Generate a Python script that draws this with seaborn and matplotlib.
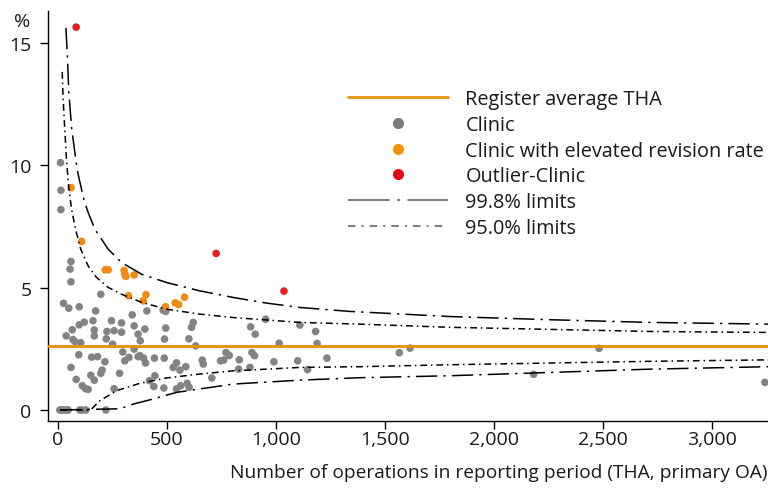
import numpy as np
import pandas as pd
import seaborn as sns
import matplotlib.pyplot as plt
from matplotlib.lines import Line2D

# clinics: operations (n) and revision rate (%)
clinic_n = [9, 15, 24, 38, 47, 101, 110, 128, 220,
            12, 14, 14, 60, 56, 60, 197, 26, 50, 98, 173, 341, 408, 246, 292,
            161, 98, 121, 350, 66, 167, 225, 258, 292, 399, 368, 38, 167, 222,
            69, 78, 378, 105, 251, 350, 96, 155, 182, 298, 216, 307, 326, 368,
            393, 443, 60, 203, 197, 283, 151, 167, 84, 112, 127, 139, 258, 420,
            440, 376, 402,
            483, 495, 621, 613, 495, 884, 905, 489, 601, 632, 488, 544, 529,
            560, 587, 662, 667, 771, 786, 746, 761, 832, 890, 902, 829, 881,
            706, 445, 486, 544, 563, 593, 602,
            953, 1015, 991, 1100, 1110, 1182, 1189, 1234, 1145, 1566, 1615,
            2482, 2182, 3243]
clinic_rate = [0, 0, 0, 0, 0, 0, 0, 0, 0,
               10.11, 8.98, 8.19, 6.07, 5.76, 5.24, 4.73, 4.36, 4.16, 4.22, 4.05,
               3.89, 4.05, 3.65, 3.56, 3.65, 3.48, 3.59, 3.44, 3.28, 3.27, 3.21,
               3.24, 3.18, 3.31, 3.10, 3.03, 3.03, 2.91, 2.88, 2.80, 2.83, 2.75,
               2.69, 2.49, 2.26, 2.16, 2.18, 2.37, 1.97, 2.01, 2.15, 2.18, 2.12,
               2.12, 1.74, 1.63, 1.50, 1.50, 1.42, 1.22, 1.25, 0.99, 0.87, 0.84,
               0.87, 1.20, 0.96, 2.22, 1.92,
               4.08, 4.03, 3.58, 3.38, 3.35, 3.40, 3.10, 2.90, 2.91, 2.62, 2.12,
               1.93, 1.74, 1.63, 1.77, 2.04, 1.88, 2.35, 2.23, 2.01, 2.04, 2.05,
               2.35, 2.22, 1.67, 1.74, 1.31, 1.40, 0.90, 0.86, 0.99, 1.09, 0.93,
               3.71, 2.73, 1.97, 2.01, 3.47, 3.21, 2.72, 2.12, 1.65, 2.34, 2.53,
               2.52, 1.46, 1.13]

elevated_n = [61, 109, 217, 231, 304, 307, 312, 350, 324, 404, 391, 494, 538, 554, 581]
elevated_rate = [9.09, 6.89, 5.73, 5.73, 5.71, 5.55, 5.46, 5.52, 4.67, 4.71, 4.46,
                 4.22, 4.38, 4.31, 4.61]

outlier_n = [84, 726, 1037]
outlier_rate = [15.65, 6.40, 4.86]

register_avg = 2.6

# control limits
up998_n = [37, 44, 50, 63, 83, 93, 121, 139, 170, 231, 292, 384, 499, 651, 804,
           957, 1110, 1339, 1798, 2257, 2716, 3260]
up998_y = [15.62, 14.4, 13.03, 11.54, 10.18, 9.63, 8.54, 8.07, 7.39, 6.57, 6.03,
           5.55, 5.21, 4.87, 4.60, 4.37, 4.19, 4.03, 3.82, 3.69, 3.58, 3.51]
up95_n = [20, 24, 32, 40, 50, 63, 81, 105, 139, 177, 231, 292, 384, 499, 651,
          804, 1110, 1385, 1798, 2716, 3260]
up95_y = [13.82, 12.76, 11.4, 10.18, 9.09, 8.2, 7.39, 6.57, 5.89, 5.42, 5.01,
          4.73, 4.40, 4.12, 3.92, 3.78, 3.58, 3.51, 3.38, 3.21, 3.17]
lo95_n = [10, 150, 193, 269, 376, 499, 651, 804, 1110, 1385, 1798, 2716, 3260]
lo95_y = [0, 0, 0.38, 0.79, 1.09, 1.31, 1.47, 1.60, 1.74, 1.77, 1.85, 1.99, 2.05]
lo998_n = [10, 284, 345, 437, 544, 651, 804, 1110, 1385, 1798, 2716, 3260]
lo998_y = [0, 0.05, 0.24, 0.45, 0.72, 0.86, 1.06, 1.22, 1.32, 1.40, 1.67, 1.77]

c_gray = '#838383'
c_orange = '#F08A12'
c_red = '#E3201B'
c_line = '#E8900C'

sns.set_theme(style='ticks')
plt.rcParams['font.family'] = ['Open Sans', 'DejaVu Sans']

df = pd.DataFrame({
    'n': clinic_n + elevated_n + outlier_n,
    'rate': clinic_rate + elevated_rate + outlier_rate,
    'group': ['Clinic'] * len(clinic_n) + ['Elevated'] * len(elevated_n)
             + ['Outlier'] * len(outlier_n),
})

fig = plt.figure(figsize=(7.68, 4.89), dpi=100)
ax = fig.add_axes([0.062, 0.137, 0.938, 0.838])

sns.scatterplot(data=df, x='n', y='rate', hue='group',
                palette={'Clinic': c_gray, 'Elevated': c_orange, 'Outlier': c_red},
                s=30, linewidth=0, legend=False, ax=ax, zorder=2)

ls998 = (0, (14, 4, 1.5, 4))
ls95 = (0, (4.5, 2.5, 1, 2.5))
for xs, ys, ls in [(up998_n, up998_y, ls998), (lo998_n, lo998_y, ls998),
                   (up95_n, up95_y, ls95), (lo95_n, lo95_y, ls95)]:
    ax.plot(xs, ys, color='black', lw=1.1, ls=ls, zorder=3)

ax.axhline(register_avg, color=c_line, lw=2, zorder=4)

ax.set_xlim(-47, 3257)
ax.set_ylim(-0.45, 16.3)
ax.set_xticks([0, 500, 1000, 1500, 2000, 2500, 3000])
ax.set_xticklabels(['0', '500', '1,000', '1,500', '2,000', '2,500', '3,000'])
ax.set_yticks([0, 5, 10, 15])
ax.tick_params(axis='both', labelsize=14, length=5.5, width=1, color='black',
               labelcolor='#1a1a1a')
ax.tick_params(axis='x', pad=1)
ax.tick_params(axis='y', pad=6)
for s in ['top', 'right']:
    ax.spines[s].set_visible(False)
for s in ['left', 'bottom']:
    ax.spines[s].set_color('black')
    ax.spines[s].set_linewidth(1.0)

ax.set_xlabel('Number of operations in reporting period (THA, primary OA)',
              fontsize=13.8, color='#1a1a1a')
ax.xaxis.set_label_coords(1.0, -0.103)
ax.xaxis.label.set_ha('right')
ax.set_ylabel('')
fig.text(22 / 768, 1 - 22 / 489, '%', ha='center', va='center', fontsize=14,
         color='#1a1a1a')

handles = [
    Line2D([], [], color=c_line, lw=2),
    Line2D([], [], ls='none', marker='o', ms=8, mec='none', color='#7f7b78'),
    Line2D([], [], ls='none', marker='o', ms=8, mec='none', color='#F39200'),
    Line2D([], [], ls='none', marker='o', ms=8, mec='none', color='#E30613'),
    Line2D([], [], color='#808080', lw=1.5, ls=(0, (20, 3.5, 1.5, 3.5))),
    Line2D([], [], color='#808080', lw=1.5, ls=(0, (3.6, 2.9, 1, 2.9))),
]
labels = ['Register average THA', 'Clinic', 'Clinic with elevated revision rate',
          'Outlier-Clinic', '99.8% limits', '95.0% limits']
fs_leg = 14.3
fig.legend(handles, labels, loc='upper left', bbox_to_anchor=(348 / 768, 1 - 90 / 489),
           frameon=False, fontsize=fs_leg, handlelength=72 / fs_leg,
           handletextpad=12.5 / fs_leg, labelspacing=0.29, borderpad=0,
           borderaxespad=0, labelcolor='#1a1a1a')

fig.savefig('out.png', dpi=100)
